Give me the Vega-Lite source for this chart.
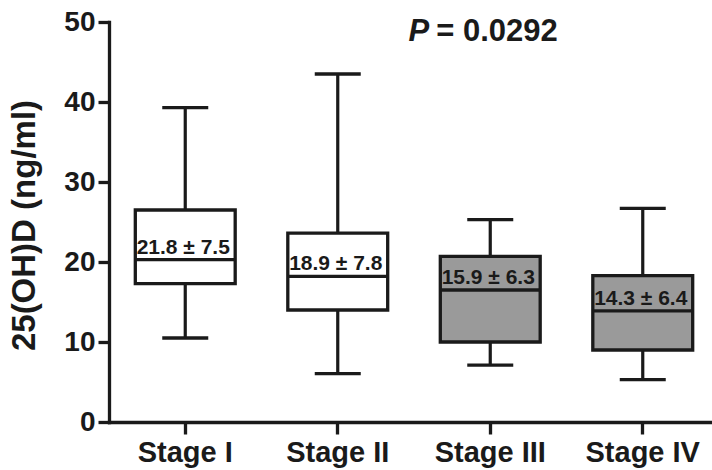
{
  "$schema": "https://vega.github.io/schema/vega-lite/v6.json",
  "autosize": {"type": "none"},
  "width": 603,
  "height": 400,
  "padding": {"left": 109, "top": 22, "right": 0, "bottom": 48},
  "background": "white",
  "config": {
    "view": {"stroke": null},
    "font": "Liberation Sans",
    "axis": {
      "domainColor": "#1a1a1a",
      "domainWidth": 3.3,
      "tickColor": "#1a1a1a",
      "tickWidth": 3.3,
      "labelColor": "#1a1a1a",
      "labelFont": "Liberation Sans",
      "labelFontWeight": "bold",
      "titleColor": "#1a1a1a",
      "titleFont": "Liberation Sans",
      "titleFontWeight": "bold",
      "grid": false
    }
  },
  "data": {
    "values": [
      {"stage": "Stage I", "lo": 10.5, "q1": 17.3, "med": 20.3, "q3": 26.5, "hi": 39.3, "label": "21.8 ± 7.5"},
      {"stage": "Stage II", "lo": 6.05, "q1": 14.0, "med": 18.2, "q3": 23.6, "hi": 43.5, "label": "18.9 ± 7.8"},
      {"stage": "Stage III", "lo": 7.1, "q1": 10.0, "med": 16.5, "q3": 20.7, "hi": 25.3, "label": "15.9 ± 6.3"},
      {"stage": "Stage IV", "lo": 5.3, "q1": 9.0, "med": 13.9, "q3": 18.3, "hi": 26.7, "label": "14.3 ± 6.4"}
    ]
  },
  "encoding": {
    "x": {
      "field": "stage",
      "type": "nominal",
      "sort": null,
      "scale": {"range": [0, 610], "paddingInner": 0, "paddingOuter": 0},
      "axis": {
        "title": null,
        "labelAngle": 0,
        "labelFontSize": 29,
        "labelPadding": 4,
        "tickSize": 12,
        "domainCap": "square"
      }
    }
  },
  "layer": [
    {
      "mark": {"type": "rule", "color": "#1a1a1a", "strokeWidth": 3.2},
      "encoding": {
        "y": {
          "field": "lo",
          "type": "quantitative",
          "scale": {"domain": [0, 50], "nice": false},
          "axis": {
            "title": "25(OH)D (ng/ml)",
            "titleFontSize": 33,
            "titleX": -85,
            "titleY": 203,
            "titleAlign": "center",
            "titleBaseline": "middle",
            "titleAngle": -90,
            "values": [0, 10, 20, 30, 40, 50],
            "labelFontSize": 28,
            "labelPadding": 3,
            "tickSize": 11,
            "domainCap": "square"
          }
        },
        "y2": {"field": "hi"}
      }
    },
    {
      "mark": {"type": "bar", "stroke": "#1a1a1a", "strokeWidth": 3.3, "width": {"band": 0.655}},
      "encoding": {
        "y": {"field": "q1", "type": "quantitative"},
        "y2": {"field": "q3"},
        "fill": {
          "field": "stage",
          "type": "nominal",
          "scale": {
            "domain": ["Stage I", "Stage II", "Stage III", "Stage IV"],
            "range": ["#ffffff", "#ffffff", "#9a9a9a", "#9a9a9a"]
          },
          "legend": null
        }
      }
    },
    {
      "mark": {"type": "tick", "color": "#1a1a1a", "thickness": 3.3, "size": 100, "opacity": 1},
      "encoding": {"y": {"field": "med", "type": "quantitative"}}
    },
    {
      "mark": {"type": "tick", "color": "#1a1a1a", "thickness": 3.3, "size": 46, "opacity": 1},
      "encoding": {"y": {"field": "lo", "type": "quantitative"}}
    },
    {
      "mark": {"type": "tick", "color": "#1a1a1a", "thickness": 3.3, "size": 46, "opacity": 1},
      "encoding": {"y": {"field": "hi", "type": "quantitative"}}
    },
    {
      "mark": {"type": "text", "font": "Liberation Sans", "fontWeight": "bold", "fontSize": 21, "color": "#1a1a1a", "baseline": "alphabetic", "dy": -6, "dx": -2},
      "encoding": {
        "y": {"field": "med", "type": "quantitative"},
        "text": {"field": "label"}
      }
    },
    {
      "data": {"values": [{"stage": "Stage III", "y": 47.6, "p": "P", "rest": "= 0.0292"}]},
      "layer": [
        {
          "mark": {"type": "text", "font": "Liberation Sans", "fontWeight": "bold", "fontStyle": "italic", "fontSize": 31, "color": "#1a1a1a", "align": "right", "baseline": "alphabetic", "dx": -61},
          "encoding": {
            "y": {"field": "y", "type": "quantitative"},
            "text": {"field": "p"}
          }
        },
        {
          "mark": {"type": "text", "font": "Liberation Sans", "fontWeight": "bold", "fontSize": 31, "color": "#1a1a1a", "align": "left", "baseline": "alphabetic", "dx": -54},
          "encoding": {
            "y": {"field": "y", "type": "quantitative"},
            "text": {"field": "rest"}
          }
        }
      ]
    }
  ]
}
